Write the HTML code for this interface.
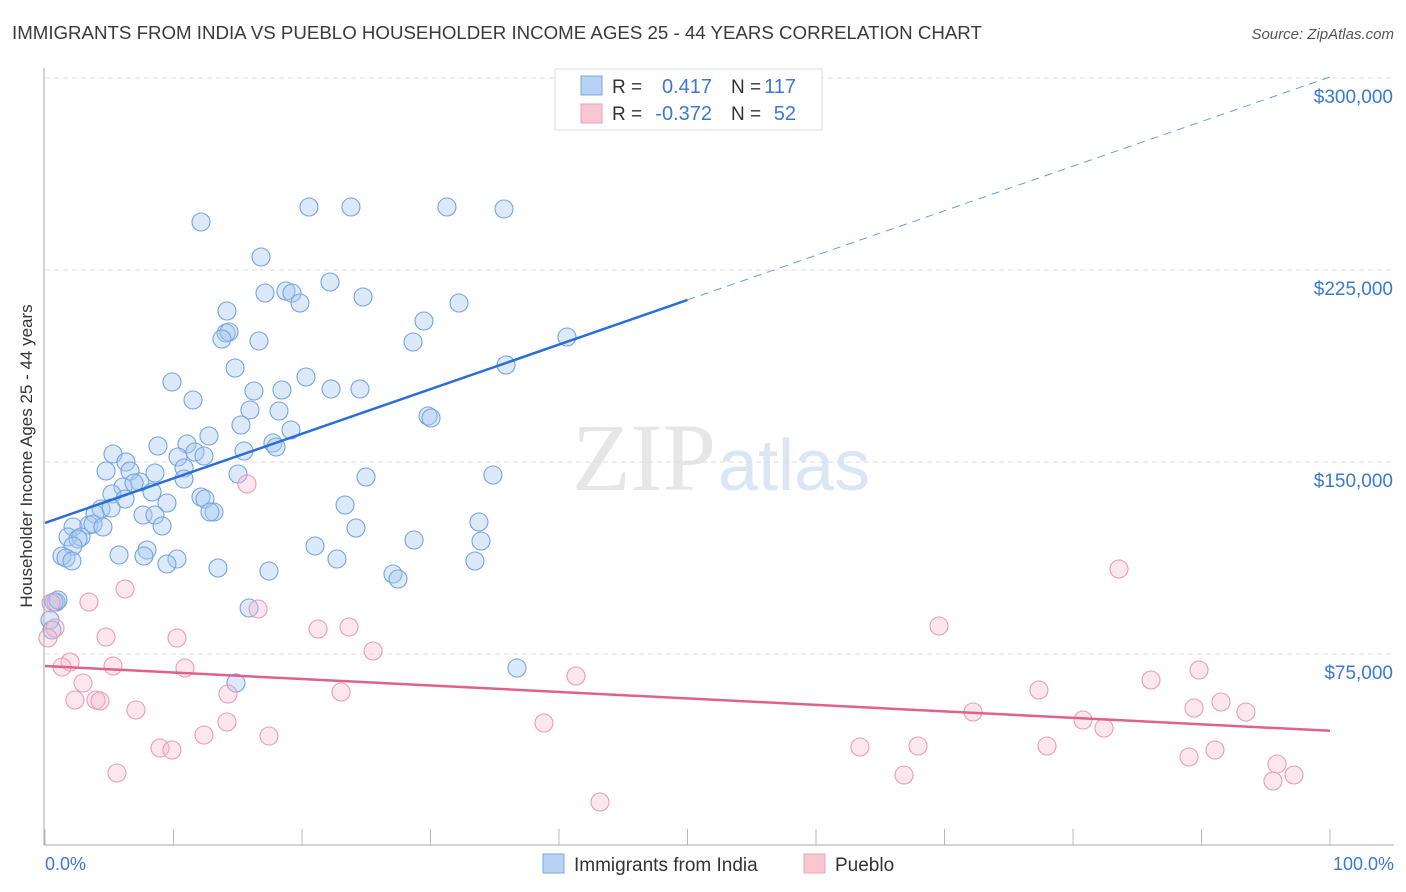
<!DOCTYPE html>
<html><head><meta charset="utf-8"><style>
body{margin:0;background:#fff;font-family:"Liberation Sans",sans-serif;}
svg{display:block}
</style></head><body>
<svg id="chart" width="1406" height="892">
<text x="12" y="39" font-size="18.7" fill="#3a3a3a">IMMIGRANTS FROM INDIA VS PUEBLO HOUSEHOLDER INCOME AGES 25 - 44 YEARS CORRELATION CHART</text>
<text x="1394" y="39" font-size="15" font-style="italic" fill="#555" text-anchor="end">Source: ZipAtlas.com</text>
<text x="716" y="490" font-size="96" font-family="Liberation Serif,serif" fill="#e6e6e6" text-anchor="end">ZIP</text>
<text x="718" y="490" font-size="72" fill="#dbe6f5">atlas</text>
<g id="grid"></g><g id="pts"></g><g id="lines"></g>
<line x1="44" y1="68" x2="44" y2="845" stroke="#aaa"/>
<line x1="44" y1="845" x2="1394" y2="845" stroke="#aaa"/>
<text x="32" y="456" font-size="17" fill="#333" text-anchor="middle" transform="rotate(-90 32 456)">Householder Income Ages 25 - 44 years</text>
<text x="45" y="870" font-size="18" fill="#3b78d4">0.0%</text>
<text x="1394" y="870" font-size="18" fill="#3b78d4" text-anchor="end">100.0%</text>
<g>
<rect x="555" y="69" width="267" height="61" fill="#fff" stroke="#ddd"/>
<rect x="581" y="76" width="21" height="19" fill="#b8d2f4" stroke="#7aa6e0"/>
<rect x="581" y="104" width="21" height="19" fill="#f9c6d4" stroke="#eea0b8"/>
<text x="612" y="93" font-size="19" fill="#333">R =</text><text x="712" y="93" font-size="20" fill="#3b78d4" text-anchor="end">0.417</text>
<text x="731" y="93" font-size="19" fill="#333">N =</text><text x="796" y="93" font-size="20" fill="#3b78d4" text-anchor="end">117</text>
<text x="612" y="120" font-size="19" fill="#333">R =</text><text x="712" y="120" font-size="20" fill="#3b78d4" text-anchor="end">-0.372</text>
<text x="731" y="120" font-size="19" fill="#333">N =</text><text x="796" y="120" font-size="20" fill="#3b78d4" text-anchor="end">52</text>
</g>
<g>
<rect x="543" y="854" width="21" height="19" fill="#b8d2f4" stroke="#7aa6e0"/>
<text x="574" y="871" font-size="19" fill="#333">Immigrants from India</text>
<rect x="804" y="854" width="21" height="19" fill="#f9c6d4" stroke="#eea0b8"/>
<text x="835" y="871" font-size="19" fill="#333">Pueblo</text>
</g>
</svg>
<script>
const yTicks=[75000,150000,225000,300000];
const yTickLabels=["$75,000","$150,000","$225,000","$300,000"];
const xTicks=[0,10,20,30,40,50,60,70,80,90,100];
const indiaPx=[[201,222],[309,207],[351,207],[447,207],[504,209],[261,257],[330,282],[265,293],[286,291],[292,293],[300,303],[363,297],[459,303],[227,311],[424,321],[226,333],[229,332],[222,339],[259,341],[413,342],[567,337],[235,368],[506,365],[172,382],[306,377],[254,391],[282,390],[331,389],[360,389],[193,400],[250,410],[279,411],[428,416],[431,418],[241,425],[291,430],[209,436],[158,446],[187,444],[273,443],[276,447],[244,451],[195,452],[178,457],[204,456],[113,454],[126,462],[106,471],[130,471],[155,473],[184,468],[238,474],[184,479],[366,477],[493,475],[123,487],[140,482],[134,483],[112,494],[125,499],[201,497],[205,499],[167,503],[152,492],[345,505],[101,509],[95,514],[111,508],[143,515],[155,515],[214,512],[210,512],[73,527],[89,525],[93,524],[103,527],[162,526],[356,528],[479,522],[68,537],[81,537],[78,539],[315,546],[414,540],[481,541],[73,546],[147,550],[119,555],[62,556],[66,558],[72,561],[177,559],[144,556],[337,559],[475,561],[167,564],[218,568],[269,571],[393,574],[398,579],[56,602],[249,608],[50,620],[517,668],[236,683],[54,602],[58,600],[52,630]];
const puebloPx=[[247,484],[1119,569],[125,589],[89,602],[51,603],[258,609],[318,629],[349,627],[939,626],[106,637],[177,638],[373,651],[70,662],[62,667],[113,666],[185,668],[1199,670],[576,676],[1151,680],[83,683],[1039,690],[228,694],[341,692],[75,700],[96,700],[100,701],[1221,702],[1194,708],[1246,712],[973,712],[136,710],[1083,720],[227,722],[544,723],[1104,728],[204,735],[269,736],[160,748],[172,750],[860,747],[918,746],[1047,746],[1215,750],[1189,757],[1277,764],[117,773],[904,775],[1294,775],[1273,781],[600,802],[55,628],[48,638]];
const indiaX=indiaPx.map(p=>+((p[0]-45)/12.85).toFixed(2));
const indiaY=indiaPx.map(p=>Math.round((846-p[1])*390.625));
const puebloX=puebloPx.map(p=>+((p[0]-45)/12.85).toFixed(2));
const puebloY=puebloPx.map(p=>Math.round((846-p[1])*390.625));
const indiaTrend=[[0,126200],[50,213300],[100,300400]];
const puebloTrend=[[0,70300],[100,45000]];
const X=v=>45+v*12.85, Y=v=>846-v/390.625;
const NS="http://www.w3.org/2000/svg";
function mk(t,a,parent){const e=document.createElementNS(NS,t);for(const k in a)e.setAttribute(k,a[k]);document.getElementById(parent).appendChild(e);return e;}
mk('line',{x1:45,y1:78,x2:1394,y2:78,stroke:'#ddd','stroke-dasharray':'5,4'},'grid');
yTicks.forEach((v,i)=>{
 const l=mk('line',{x1:45,y1:Y(v),x2:1394,y2:Y(v),stroke:'#ddd','stroke-dasharray':'5,4'},'grid');
 
 
 const t=mk('text',{x:1393,y:Y(v)+25,'font-size':19,fill:'#3b78d4','text-anchor':'end'},'grid');
 t.textContent=yTickLabels[i];
 
 
});
xTicks.forEach(v=>{
 const l=mk('line',{x1:X(v),y1:829,x2:X(v),y2:845,stroke:'#bbb'},'grid');
 
 
});
indiaX.forEach((x,i)=>{
 const c=mk('circle',{cx:X(x),cy:Y(indiaY[i]),r:9,fill:'rgba(168,200,240,0.4)',stroke:'#74a3e0','stroke-width':1.1},'pts');
 
 
});
puebloX.forEach((x,i)=>{
 const c=mk('circle',{cx:X(x),cy:Y(puebloY[i]),r:9,fill:'rgba(246,185,205,0.35)',stroke:'#ec9ab5','stroke-width':1.1},'pts');
 
 
});
let l=mk('line',{x1:X(indiaTrend[0][0]),y1:Y(indiaTrend[0][1]),x2:X(indiaTrend[1][0]),y2:Y(indiaTrend[1][1]),stroke:'#2a6fd6','stroke-width':2.5},'lines');


l=mk('line',{x1:X(indiaTrend[1][0]),y1:Y(indiaTrend[1][1]),x2:X(indiaTrend[2][0]),y2:Y(indiaTrend[2][1]),stroke:'#6a9de0','stroke-width':1,'stroke-dasharray':'8,6'},'lines');


l=mk('line',{x1:X(puebloTrend[0][0]),y1:Y(puebloTrend[0][1]),x2:X(puebloTrend[1][0]),y2:Y(puebloTrend[1][1]),stroke:'#e0608e','stroke-width':2.5},'lines');


</script>
</body></html>
